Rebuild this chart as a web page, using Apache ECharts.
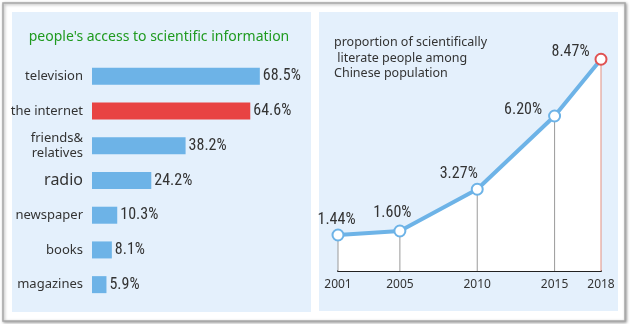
<!DOCTYPE html>
<html>
<head>
<meta charset="utf-8">
<script src="https://cdn.jsdelivr.net/npm/echarts@6/dist/echarts.min.js"></script>
<style>
  html, body { margin: 0; padding: 0; background: #ffffff; }
  #chart { width: 631px; height: 324px; }
</style>
</head>
<body>
<div id="chart"></div>
<script>
// ---- data ----
var accessCategories = ['television', 'the internet', 'friends&\nrelatives', 'radio', 'newspaper', 'books', 'magazines'];
var accessValues = [68.5, 64.6, 38.2, 24.2, 10.3, 8.1, 5.9];
var years = [2001, 2005, 2010, 2015, 2018];
var literacyValues = [1.44, 1.60, 3.27, 6.20, 8.47];
var yearTickLabels = [2001, 2005, 2010, 2015, 2018];

// ---- style ----
var blue = '#6db3e7';
var red = '#e84343';
var textColor = '#333333';
var narrow = '"Liberation Sans Narrow", "Roboto Condensed", sans-serif';
var uiFont = '"Noto Sans", "Open Sans", sans-serif';

var chart = echarts.init(document.getElementById('chart'));

var barData = accessValues.map(function (v, i) {
  return { value: v, itemStyle: { color: i === 1 ? red : blue } };
});

var labelPos = [[5, -9], [-1, -12], [-12, -9], [-25, 0], [-24, -1]];
var lineData = years.map(function (y, i) {
  var last = i === years.length - 1;
  return {
    value: [y, literacyValues[i]],
    itemStyle: { borderColor: last ? '#e05252' : blue },
    label: { position: labelPos[i] }
  };
});
var dropData = years.map(function (y, i) {
  var last = i === years.length - 1;
  return { value: [y, literacyValues[i]], itemStyle: { color: last ? '#e39080' : '#9a9a9a' } };
});

chart.setOption({
  animation: false,
  backgroundColor: '#ffffff',
  graphic: [
    { type: 'rect', z: -10, silent: true, shape: { x: 3, y: 3, width: 622, height: 318 },
      style: { fill: '#ffffff', stroke: '#a8a8a8', lineWidth: 1.5, shadowColor: 'rgba(0,0,0,0.35)', shadowBlur: 3, shadowOffsetX: 1, shadowOffsetY: 1 } },
    { type: 'rect', z: -9, silent: true, shape: { x: 12, y: 12, width: 299, height: 300 },
      style: { fill: '#e4f0fc' } },
    { type: 'rect', z: -9, silent: true, shape: { x: 319, y: 12, width: 299, height: 299 },
      style: { fill: '#e4f0fc' } },
    { type: 'text', z: 10, silent: true, x: 159, y: 37,
      style: { text: "people's access to scientific information", fill: '#1f9a1f', font: '14px ' + uiFont, textAlign: 'center', textVerticalAlign: 'middle' } },
    { type: 'text', z: 10, silent: true, x: 334, y: 35,
      style: { text: 'proportion of scientifically\n literate people among\nChinese population', fill: textColor, font: '12.5px ' + uiFont, lineHeight: 15.5 } }
  ],
  grid: [
    { left: 92, width: 245, top: 59, bottom: 22 },
    { left: 338, right: 30, top: 21, bottom: 53 }
  ],
  xAxis: [
    { gridIndex: 0, type: 'value', min: 0, max: 100, show: false },
    { gridIndex: 1, type: 'value', min: 2001, max: 2018, interval: 1,
      axisLine: { lineStyle: { color: '#222', width: 2 } },
      axisTick: { show: false }, splitLine: { show: false },
      axisLabel: { color: textColor, fontSize: 12, fontFamily: uiFont, margin: 8,
        formatter: function (v) { return yearTickLabels.indexOf(v) >= 0 ? String(v) : ''; } } }
  ],
  yAxis: [
    { gridIndex: 0, type: 'category', data: accessCategories, inverse: true,
      axisLine: { show: false }, axisTick: { show: false },
      axisLabel: { margin: 9, color: textColor, fontSize: 13, fontFamily: uiFont, lineHeight: 15,
        formatter: function (v) { return v === 'radio' ? '{big|' + v + '}' : v; },
        rich: { big: { fontSize: 16, color: textColor, fontFamily: uiFont } } } },
    { gridIndex: 1, type: 'value', min: 0, max: 10, show: false }
  ],
  series: [
    { type: 'bar', xAxisIndex: 0, yAxisIndex: 0, data: barData, barWidth: 17,
      label: { show: true, position: 'right', distance: 3, color: textColor, fontSize: 16, fontFamily: narrow,
        formatter: function (p) { return p.value + '%'; } } },
    { type: 'line', xAxisIndex: 1, yAxisIndex: 1, z: 1, data: years.map(function (y, i) { return [y, literacyValues[i]]; }),
      symbol: 'none', lineStyle: { width: 0 }, areaStyle: { color: '#ffffff', opacity: 1 } },
    { type: 'bar', xAxisIndex: 1, yAxisIndex: 1, z: 2, data: dropData, barWidth: 1 },
    { type: 'line', xAxisIndex: 1, yAxisIndex: 1, z: 3, data: lineData,
      symbol: 'circle', symbolSize: 11,
      lineStyle: { color: blue, width: 4 },
      itemStyle: { color: '#ffffff', borderColor: blue, borderWidth: 2 },
      label: { show: true, color: textColor, fontSize: 16, fontFamily: narrow, align: 'center', verticalAlign: 'middle',
        formatter: function (p) { return p.value[1].toFixed(2) + '%'; } } }
  ]
});
</script>
</body>
</html>
